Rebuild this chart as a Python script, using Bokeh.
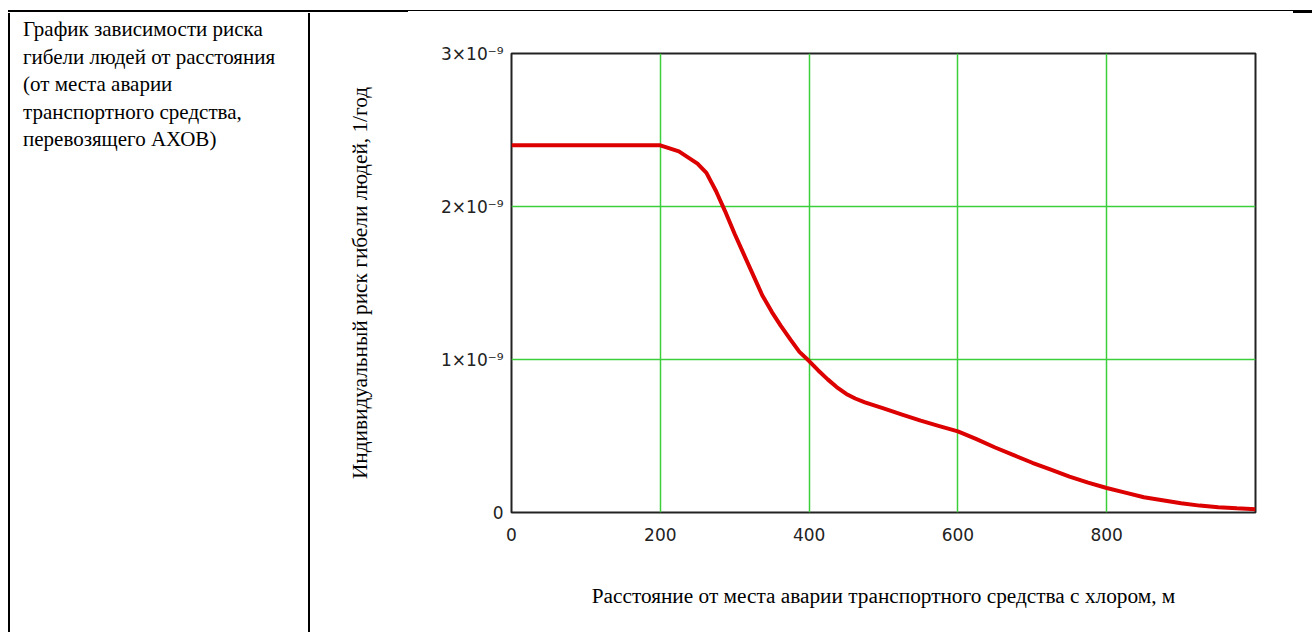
from bokeh.plotting import figure
from bokeh.models import Range1d, FixedTicker, CustomJSTickFormatter, Div
from bokeh.layouts import column, row
from bokeh.embed import file_html
from bokeh.resources import INLINE

# ---- data ----
distance_m = [0, 50, 100, 150, 200, 225, 250, 262, 275, 287, 300, 312, 325, 337, 350,
              362, 375, 387, 400, 412, 425, 437, 450, 462, 475, 500, 525, 550, 575,
              600, 625, 650, 675, 700, 725, 750, 775, 800, 825, 850, 875, 900, 925,
              950, 975, 1000]
risk_per_year = [2.40e-9, 2.40e-9, 2.40e-9, 2.40e-9, 2.40e-9, 2.36e-9, 2.28e-9, 2.22e-9,
                 2.10e-9, 1.97e-9, 1.82e-9, 1.69e-9, 1.55e-9, 1.42e-9, 1.31e-9,
                 1.22e-9, 1.13e-9, 1.05e-9, 0.99e-9, 0.93e-9, 0.87e-9, 0.82e-9, 0.775e-9,
                 0.745e-9, 0.72e-9, 0.68e-9, 0.64e-9, 0.60e-9, 0.565e-9,
                 0.53e-9, 0.48e-9, 0.425e-9, 0.375e-9, 0.325e-9, 0.28e-9, 0.235e-9,
                 0.195e-9, 0.16e-9, 0.13e-9, 0.10e-9, 0.08e-9, 0.06e-9, 0.045e-9,
                 0.035e-9, 0.028e-9, 0.022e-9]

x_ticks = [0, 200, 400, 600, 800]
y_ticks = [0, 1e-9, 2e-9, 3e-9]
y_tick_labels = ["0", "1×10⁻⁹", "2×10⁻⁹", "3×10⁻⁹"]

caption_lines = ["График зависимости риска", "гибели людей от расстояния",
                 "(от места аварии", "транспортного средства,", "перевозящего АХОВ)"]
x_title = "Расстояние от места аварии транспортного средства с хлором, м"
y_title = "Индивидуальный риск гибели людей, 1/год"

SERIF = "Liberation Serif"
TICK_FONT = "DejaVu Sans"

# ---- table frame (top rule) ----
top_html = (
    '<div style="position:relative;width:1312px;height:13px;">'
    '<div style="position:absolute;left:8px;top:10px;width:400px;height:2px;background:#000"></div>'
    '<div style="position:absolute;left:408px;top:10px;width:885px;height:1px;background:#000"></div>'
    '<div style="position:absolute;left:1293px;top:10px;width:19px;height:3px;background:#000"></div>'
    '</div>'
)
top_div = Div(text=top_html, width=1312, height=13, margin=0)

# ---- left cell ----
left_html = (
    '<div style="position:relative;width:310px;height:619px;">'
    '<div style="position:absolute;left:8px;top:0;width:2px;height:619px;background:#000"></div>'
    '<div style="position:absolute;left:308px;top:0;width:2px;height:619px;background:#000"></div>'
    '<div style="position:absolute;left:23px;top:3px;white-space:nowrap;'
    'font-family:Liberation Serif,Times New Roman,serif;'
    'font-size:21px;line-height:27.5px;color:#000;">'
    + "<br>".join(caption_lines) +
    '</div></div>'
)
left_div = Div(text=left_html, width=310, height=619, margin=0,
               styles={"font-family": "Liberation Serif, Times New Roman, serif"})

# ---- chart ----
p = figure(width=1002, height=619, x_range=Range1d(0, 1000), y_range=Range1d(0, 3e-9),
           output_backend="svg", toolbar_location=None,
           min_border_left=201, min_border_right=57, min_border_top=40, min_border_bottom=120)
p.background_fill_color = "white"
p.border_fill_color = "white"
p.outline_line_color = "#222222"
p.outline_line_width = 2

p.line(distance_m, risk_per_year, line_color="#dd0000", line_width=4)

p.xaxis.ticker = FixedTicker(ticks=x_ticks)
p.yaxis.ticker = FixedTicker(ticks=y_ticks)
p.yaxis.formatter = CustomJSTickFormatter(args=dict(tick_vals=y_ticks, tick_labels=y_tick_labels), code="""
let best = 0, d = Infinity;
for (let i = 0; i < tick_vals.length; i++) {
  const e = Math.abs(tick_vals[i] - tick);
  if (e < d) { d = e; best = i; }
}
return tick_labels[best];
""")

for ax in (p.xaxis[0], p.yaxis[0]):
    ax.axis_line_color = None
    ax.major_tick_line_color = None
    ax.minor_tick_line_color = None
    ax.major_label_text_font = TICK_FONT
    ax.major_label_text_font_size = "17px"
    ax.major_label_text_color = "#222222"
    ax.axis_label_text_font = SERIF
    ax.axis_label_text_font_size = "21.3px"
    ax.axis_label_text_font_style = "normal"
    ax.axis_label_text_color = "#000000"

p.xaxis.major_label_standoff = 9
p.yaxis.major_label_standoff = 2
p.xaxis.axis_label = x_title
p.yaxis.axis_label = y_title
p.xaxis.axis_label_standoff = 40
p.yaxis.axis_label_standoff = 66

p.xgrid.ticker = FixedTicker(ticks=x_ticks)
p.ygrid.ticker = FixedTicker(ticks=y_ticks)
for g in (p.xgrid[0], p.ygrid[0]):
    g.grid_line_color = "#3ccf3c"
    g.grid_line_width = 1.5

layout = column(top_div, row(left_div, p, spacing=0), spacing=0)

open("out.html", "w").write(file_html(layout, INLINE))
